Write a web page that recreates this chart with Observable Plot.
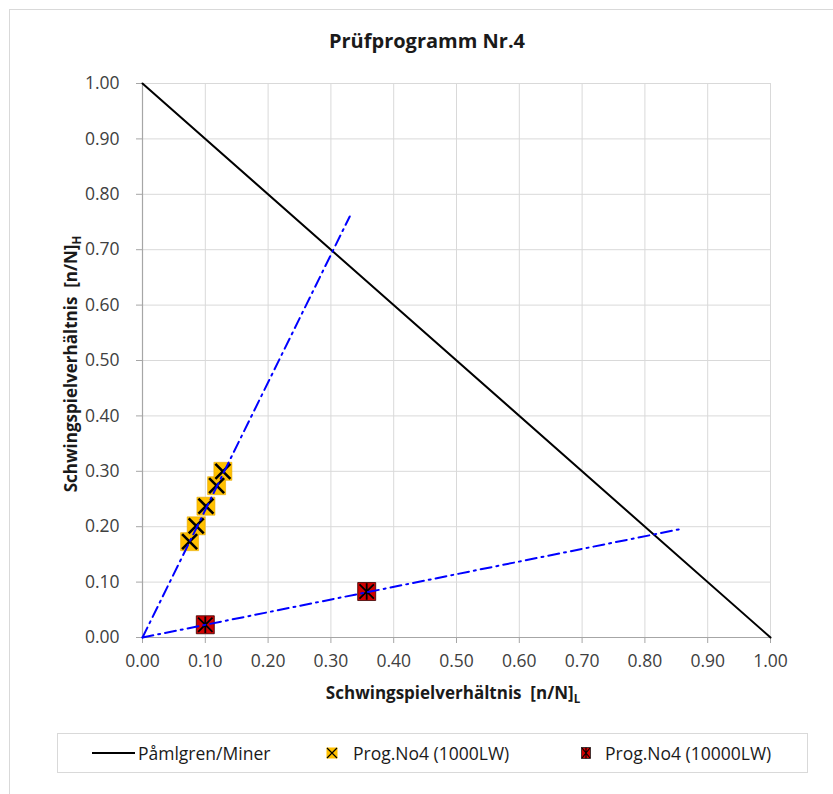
<!DOCTYPE html>
<html><head><meta charset="utf-8">
<script src="https://cdn.jsdelivr.net/npm/d3@7"></script>
<script src="https://cdn.jsdelivr.net/npm/@observablehq/plot@0.6"></script>
<style>
body{margin:0;background:#fff;font-family:"Open Sans",sans-serif;}
#wrap{position:relative;width:833px;height:794px;overflow:hidden;background:#fff;}
#border{position:absolute;left:9px;top:9px;width:900px;height:900px;border:1px solid #d9d9d9;box-sizing:border-box;}
#title{position:absolute;left:0;width:854px;top:27px;text-align:center;font-weight:bold;font-size:20px;line-height:28px;color:#1a1a1a;}
#chart{position:absolute;left:0;top:60px;}
#legend{position:absolute;left:57px;top:733px;width:751px;height:40px;border:1px solid #d9d9d9;box-sizing:border-box;}
.li{position:absolute;top:0;height:38px;line-height:38px;font-size:17.5px;color:#1a1a1a;white-space:nowrap;}
.li svg{position:absolute;}
</style>
</head><body>
<div id="wrap">
  <div id="border"></div>
  <div id="title"></div>
  <div id="chart"></div>
  <div id="legend"></div>
</div>
<script>
const titleText = "Prüfprogramm Nr.4";
const xAxisTitle = "Schwingspielverhältnis  [n/N]";
const xAxisSub = "L";
const yAxisTitle = "Schwingspielverhältnis  [n/N]";
const yAxisSub = "H";
const seriesNames = ["Påmlgren/Miner", "Prog.No4 (1000LW)", "Prog.No4 (10000LW)"];

const xTicks = [0.0, 0.1, 0.2, 0.3, 0.4, 0.5, 0.6, 0.7, 0.8, 0.9, 1.0];
const yTicks = [0.0, 0.1, 0.2, 0.3, 0.4, 0.5, 0.6, 0.7, 0.8, 0.9, 1.0];

const minerX = [0, 1];
const minerY = [1, 0];

const lw1000X = [0.075, 0.0855, 0.101, 0.118, 0.128];
const lw1000Y = [0.173, 0.2016, 0.237, 0.274, 0.300];

const lw10000X = [0.100, 0.357];
const lw10000Y = [0.023, 0.083];

const trend1000X = [0, 0.330];
const trend1000Y = [0, 0.760];
const trend10000X = [0, 0.858];
const trend10000Y = [0, 0.196];

const zip = (xs, ys) => xs.map((x, i) => ({x, y: ys[i]}));
const miner = zip(minerX, minerY);
const p1000 = zip(lw1000X, lw1000Y);
const p10000 = zip(lw10000X, lw10000Y);
const t1000 = zip(trend1000X, trend1000Y);
const t10000 = zip(trend10000X, trend10000Y);

const rOf = s => Math.sqrt(s / Math.PI);
const symSquare = {draw(c, s){const r = rOf(s); c.moveTo(-r,-r); c.lineTo(r,-r); c.lineTo(r,r); c.lineTo(-r,r); c.closePath();}};
const symX = {draw(c, s){const r = rOf(s); c.moveTo(-r,-r); c.lineTo(r,r); c.moveTo(-r,r); c.lineTo(r,-r);}};
const symStar = {draw(c, s){const r = rOf(s); c.moveTo(-r,-r); c.lineTo(r,r); c.moveTo(-r,r); c.lineTo(r,-r); c.moveTo(0,-r*1.15); c.lineTo(0,r*1.15);}};

const gold = "#FFC000", red = "#D00000", blue = "#0000FF";
const dash = "11,5,2,5";

const chart = Plot.plot({
  width: 833,
  height: 660,
  marginLeft: 142,
  marginRight: 63,
  marginTop: 23,
  marginBottom: 83,
  style: {fontFamily: "'Open Sans', sans-serif", background: "transparent", overflow: "visible"},
  x: {domain: [0, 1]},
  y: {domain: [0, 1]},
  marks: [
    Plot.gridX({ticks: xTicks, stroke: "#d9d9d9", strokeOpacity: 1, strokeWidth: 1}),
    Plot.gridY({ticks: yTicks, stroke: "#d9d9d9", strokeOpacity: 1, strokeWidth: 1}),
    Plot.axisX({ticks: xTicks, tickFormat: d3.format(".2f"), tickSize: 6, tickPadding: 11, fontSize: 17.5, stroke: "#a6a6a6", fill: "#404040", label: null}),
    Plot.axisY({ticks: yTicks, tickFormat: d3.format(".2f"), tickSize: 6, tickPadding: 17, fontSize: 17.5, stroke: "#a6a6a6", fill: "#404040", label: null}),
    Plot.ruleX([0], {stroke: "#a6a6a6", strokeWidth: 1.2}),
    Plot.ruleY([0], {stroke: "#a6a6a6", strokeWidth: 1.2}),
    Plot.line(miner, {x: "x", y: "y", stroke: "#000", strokeWidth: 2}),
    Plot.dot(p1000, {x: "x", y: "y", symbol: symSquare, r: 9, fill: gold, stroke: "#e8ab00", strokeWidth: 0.6}),
    Plot.dot(p1000, {x: "x", y: "y", symbol: symX, r: 7.5, fill: "none", stroke: "#000", strokeWidth: 2.6}),
    Plot.dot(p10000, {x: "x", y: "y", symbol: symSquare, r: 9, fill: red, stroke: "#3a0000", strokeWidth: 0.8}),
    Plot.dot(p10000, {x: "x", y: "y", symbol: symStar, r: 7.2, fill: "none", stroke: "#000", strokeWidth: 1.8}),
    Plot.line(t1000, {x: "x", y: "y", stroke: blue, strokeWidth: 2, strokeDasharray: dash}),
    Plot.line(t10000, {x: "x", y: "y", stroke: blue, strokeWidth: 2, strokeDasharray: dash})
  ]
});

const svg = d3.select(chart);
const xs = chart.scale("x"), ys = chart.scale("y");
const yl = svg.append("text")
  .attr("transform", `translate(77,${ys.apply(0.5) + 4}) rotate(-90)`)
  .attr("text-anchor", "middle").attr("font-weight", "bold").attr("font-size", 17)
  .attr("fill", "#1a1a1a").style("white-space", "pre");
yl.append("tspan").text(yAxisTitle);
yl.append("tspan").attr("dy", "0.35em").attr("font-size", 11.5).text(yAxisSub);
const xl = svg.append("text")
  .attr("x", xs.apply(0.5) - 3).attr("y", 639)
  .attr("text-anchor", "middle").attr("font-weight", "bold").attr("font-size", 17)
  .attr("fill", "#1a1a1a").style("white-space", "pre");
xl.append("tspan").text(xAxisTitle);
xl.append("tspan").attr("dy", "0.35em").attr("font-size", 11.5).text(xAxisSub);

document.getElementById("chart").appendChild(chart);
document.getElementById("title").textContent = titleText;

const leg = document.getElementById("legend");
const items = [
  {name: seriesNames[0], left: 34, textLeft: 46, icon: `<svg width="44" height="10" style="left:0;top:14px"><line x1="0" y1="5" x2="43" y2="5" stroke="#000" stroke-width="2"/></svg>`},
  {name: seriesNames[1], left: 267, textLeft: 28, icon: `<svg width="14" height="14" style="left:0;top:12px"><rect x="1.5" y="1.5" width="11" height="11" fill="${gold}"/><path d="M2,2L12,12M2,12L12,2" stroke="#000" stroke-width="1.2"/></svg>`},
  {name: seriesNames[2], left: 521, textLeft: 26, icon: `<svg width="14" height="14" style="left:0;top:12px"><rect x="2.5" y="1.5" width="9" height="11" fill="${red}" stroke="#222" stroke-width="0.8"/><path d="M3,2L11,12M3,12L11,2M7,1.5L7,12.5" stroke="#000" stroke-width="1.1"/></svg>`}
];
for (const it of items) {
  const d = document.createElement("div");
  d.className = "li";
  d.style.left = it.left + "px";
  d.innerHTML = it.icon + `<span style="position:absolute;left:${it.textLeft}px">${it.name}</span>`;
  leg.appendChild(d);
}
</script>
</body></html>
